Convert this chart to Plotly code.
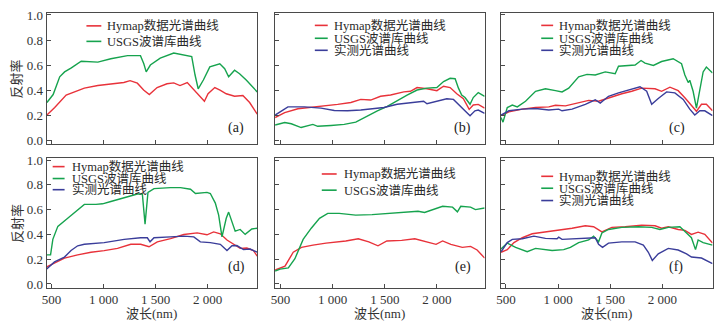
"""
Courbes spectrales : Hymap / USGS / mesures terrain (6 panneaux)
"""

import plotly.graph_objects as go
from plotly.subplots import make_subplots

W, H = 716, 326

FONT = "Times New Roman, Liberation Serif, Noto Sans CJK SC, serif"
RED = "#e8323a"
GREEN = "#16a34e"
BLUE = "#3a3d9a"
FRAME = "#4a4a4a"

NAME_HYMAP = "Hymap数据光谱曲线"
NAME_USGS = "USGS波谱库曲线"
NAME_MEAS = "实测光谱曲线"

# ---- (a)
a_hymap_wl = [455, 530, 640, 750, 815, 945, 1070, 1195, 1255, 1325, 1385, 1440, 1515, 1610,
              1675, 1735, 1805, 1850, 1910, 1970, 2005, 2070, 2120, 2180, 2260, 2340, 2405, 2478]
a_hymap = [0.20, 0.26, 0.36, 0.395, 0.415, 0.436, 0.45, 0.46, 0.475, 0.455, 0.40, 0.364, 0.42, 0.45,
           0.457, 0.436, 0.46, 0.42, 0.37, 0.31, 0.37, 0.42, 0.40, 0.37, 0.35, 0.356, 0.30, 0.208]
a_usgs_wl = [455, 515, 578, 625, 690, 785, 945, 1070, 1230, 1355, 1387, 1410, 1450, 1545,
             1675, 1770, 1848, 1880, 1910, 1960, 2022, 2118, 2165, 2203, 2260, 2308, 2372, 2478]
a_usgs = [0.30, 0.364, 0.506, 0.545, 0.577, 0.63, 0.623, 0.65, 0.675, 0.675, 0.61, 0.545, 0.60, 0.655,
          0.696, 0.68, 0.667, 0.52, 0.41, 0.48, 0.585, 0.61, 0.57, 0.506, 0.558, 0.53, 0.48, 0.385]

# ---- (b)
b_hymap_wl = [448, 540, 667, 794, 921, 1048, 1175, 1270, 1365, 1460, 1556, 1683, 1746, 1810,
              1905, 2000, 2064, 2127, 2191, 2254, 2310, 2349, 2397, 2458]
b_hymap = [0.18, 0.22, 0.25, 0.26, 0.27, 0.285, 0.30, 0.325, 0.32, 0.35, 0.36, 0.385, 0.39, 0.42,
           0.41, 0.395, 0.43, 0.42, 0.37, 0.33, 0.245, 0.28, 0.285, 0.255]
b_usgs_wl = [448, 540, 603, 698, 810, 857, 984, 1111, 1222, 1333, 1429, 1524, 1619, 1714,
             1810, 1905, 2000, 2064, 2127, 2175, 2207, 2238, 2270, 2318, 2349, 2397, 2458]
b_usgs = [0.12, 0.14, 0.13, 0.10, 0.125, 0.11, 0.117, 0.125, 0.143, 0.195, 0.234, 0.27, 0.317, 0.36,
          0.40, 0.415, 0.42, 0.468, 0.494, 0.49, 0.415, 0.36, 0.34, 0.286, 0.34, 0.38, 0.35]
b_meas_wl = [448, 571, 730, 889, 1016, 1143, 1270, 1365, 1492, 1619, 1746, 1873, 1905, 2000,
             2095, 2159, 2207, 2270, 2318, 2365, 2397, 2458]
b_meas = [0.20, 0.265, 0.265, 0.255, 0.236, 0.234, 0.24, 0.247, 0.26, 0.286, 0.30, 0.31, 0.29, 0.31,
          0.33, 0.325, 0.286, 0.234, 0.195, 0.234, 0.24, 0.213]

# ---- (c)
c_hymap_wl = [453, 529, 657, 784, 911, 975, 1070, 1197, 1293, 1388, 1483, 1611, 1706, 1801,
              1929, 1992, 2072, 2151, 2215, 2278, 2326, 2374, 2421, 2480]
c_hymap = [0.195, 0.226, 0.247, 0.26, 0.265, 0.278, 0.273, 0.30, 0.317, 0.31, 0.338, 0.37, 0.39, 0.415,
           0.41, 0.39, 0.423, 0.395, 0.338, 0.273, 0.23, 0.286, 0.286, 0.234]
c_usgs_wl = [453, 472, 513, 561, 609, 688, 784, 879, 975, 1038, 1102, 1197, 1277, 1356, 1452,
             1547, 1579, 1658, 1738, 1795, 1833, 1913, 1992, 2103, 2183, 2215, 2247, 2262,
             2294, 2326, 2358, 2390, 2421, 2480]
c_usgs = [0.18, 0.143, 0.26, 0.28, 0.265, 0.31, 0.39, 0.41, 0.395, 0.385, 0.415, 0.506, 0.525, 0.52, 0.545,
          0.53, 0.59, 0.597, 0.60, 0.636, 0.615, 0.597, 0.628, 0.65, 0.61, 0.52, 0.46, 0.478,
          0.39, 0.255, 0.39, 0.545, 0.584, 0.537]
c_meas_wl = [453, 529, 657, 784, 911, 1006, 1038, 1134, 1261, 1356, 1404, 1483, 1579, 1706,
             1785, 1849, 1897, 1960, 2040, 2119, 2199, 2262, 2310, 2358, 2406, 2480]
c_meas = [0.20, 0.234, 0.247, 0.252, 0.24, 0.247, 0.234, 0.247, 0.286, 0.322, 0.296, 0.35, 0.377, 0.41,
          0.426, 0.39, 0.286, 0.332, 0.385, 0.377, 0.325, 0.247, 0.20, 0.234, 0.234, 0.195]

# ---- (d)
d_hymap_wl = [453, 528, 624, 751, 879, 1006, 1134, 1262, 1357, 1437, 1517, 1644, 1772, 1900,
              1995, 2059, 2123, 2187, 2250, 2314, 2378, 2442, 2478]
d_hymap = [0.138, 0.17, 0.209, 0.235, 0.256, 0.269, 0.287, 0.32, 0.32, 0.30, 0.34, 0.366, 0.399, 0.412,
           0.397, 0.42, 0.405, 0.355, 0.32, 0.287, 0.29, 0.269, 0.225]
d_usgs_wl = [453, 490, 512, 560, 655, 751, 815, 927, 990, 1070, 1198, 1325, 1373, 1399, 1427,
             1485, 1644, 1740, 1836, 1884, 1995, 2027, 2075, 2107, 2139, 2180, 2203, 2235,
             2266, 2314, 2362, 2426, 2478]
d_usgs = [0.235, 0.235, 0.36, 0.465, 0.53, 0.595, 0.642, 0.642, 0.647, 0.666, 0.695, 0.726, 0.726, 0.483, 0.739,
          0.77, 0.778, 0.778, 0.765, 0.73, 0.739, 0.73, 0.653, 0.556, 0.38, 0.53, 0.58, 0.504,
          0.426, 0.44, 0.40, 0.444, 0.45]
d_meas_wl = [453, 528, 624, 687, 751, 815, 1006, 1198, 1357, 1421, 1447, 1485, 1644, 1772,
             1868, 1931, 2027, 2123, 2187, 2235, 2282, 2346, 2410, 2478]
d_meas = [0.12, 0.178, 0.217, 0.27, 0.308, 0.32, 0.334, 0.36, 0.373, 0.373, 0.34, 0.373, 0.38, 0.386,
          0.38, 0.34, 0.334, 0.32, 0.27, 0.308, 0.31, 0.277, 0.282, 0.256]

# ---- (e)
e_hymap_wl = [448, 543, 622, 701, 811, 937, 1126, 1246, 1347, 1435, 1520, 1662, 1788, 1882,
              1992, 2055, 2134, 2244, 2323, 2386, 2458]
e_hymap = [0.112, 0.144, 0.256, 0.295, 0.313, 0.33, 0.347, 0.365, 0.34, 0.308, 0.347, 0.352, 0.365, 0.347,
           0.32, 0.347, 0.32, 0.295, 0.303, 0.274, 0.209]
e_usgs_wl = [448, 496, 575, 638, 717, 795, 874, 953, 1063, 1221, 1378, 1536, 1693, 1819,
             1882, 1977, 2055, 2150, 2197, 2229, 2323, 2370, 2458]
e_usgs = [0.104, 0.12, 0.13, 0.204, 0.36, 0.45, 0.53, 0.57, 0.57, 0.556, 0.56, 0.57, 0.577, 0.587,
          0.577, 0.608, 0.627, 0.62, 0.582, 0.627, 0.62, 0.60, 0.613]

# ---- (f)
f_hymap_wl = [453, 513, 577, 657, 752, 879, 1006, 1134, 1261, 1340, 1420, 1515, 1642, 1801,
              1929, 1992, 2056, 2151, 2215, 2278, 2342, 2406, 2480]
f_hymap = [0.256, 0.277, 0.334, 0.373, 0.405, 0.42, 0.433, 0.45, 0.47, 0.462, 0.42, 0.457, 0.462, 0.475,
           0.47, 0.45, 0.462, 0.44, 0.433, 0.40, 0.418, 0.40, 0.33]
f_usgs_wl = [453, 513, 593, 704, 784, 847, 943, 1054, 1118, 1197, 1293, 1340, 1388, 1420,
             1483, 1611, 1770, 1897, 1976, 2056, 2167, 2231, 2278, 2317, 2342, 2390, 2480]
f_usgs = [0.282, 0.33, 0.295, 0.26, 0.287, 0.28, 0.27, 0.277, 0.295, 0.334, 0.355, 0.386, 0.34, 0.412,
          0.44, 0.457, 0.462, 0.457, 0.44, 0.457, 0.462, 0.412, 0.373, 0.277, 0.355, 0.334, 0.313]
f_meas_wl = [453, 513, 561, 657, 768, 879, 990, 1006, 1038, 1165, 1293, 1356, 1388, 1426,
             1483, 1611, 1738, 1817, 1865, 1903, 1960, 2056, 2151, 2231, 2278, 2374, 2480]
f_meas = [0.26, 0.334, 0.36, 0.365, 0.386, 0.368, 0.365, 0.378, 0.36, 0.365, 0.365, 0.373, 0.32, 0.295,
          0.33, 0.34, 0.34, 0.313, 0.256, 0.19, 0.243, 0.287, 0.274, 0.243, 0.217, 0.209, 0.165]

x_ticks = [500, 1000, 1500, 2000]
x_tick_text = ["500", "1 000", "1 500", "2 000"]
y_ticks = [0.0, 0.2, 0.4, 0.6, 0.8, 1.0]
y_tick_text = ["0.0", "0.2", "0.4", "0.6", "0.8", "1.0"]


def px(x):
    return x / W


def py(y):
    return 1 - y / H


# domaines des panneaux (pixels)
col_px = [(42, 254), (272, 483), (499.5, 712.5)]
row_px = [(7.6, 142.3), (157.3, 290.7)]
x_ranges = [[453, 2478], [448, 2458], [453, 2480]]

panels = [
    dict(row=1, col=1, tag="(a)", curves=[(a_hymap_wl, a_hymap, RED, NAME_HYMAP),
                                          (a_usgs_wl, a_usgs, GREEN, NAME_USGS)],
         leg=(82, 97, 101, [20.5, 36.5]), lab=(233, 126)),
    dict(row=1, col=2, tag="(b)", curves=[(b_hymap_wl, b_hymap, RED, NAME_HYMAP),
                                          (b_usgs_wl, b_usgs, GREEN, NAME_USGS),
                                          (b_meas_wl, b_meas, BLUE, NAME_MEAS)],
         leg=(312, 325, 329, [20, 33.3, 45.7]), lab=(461, 126)),
    dict(row=1, col=3, tag="(c)", curves=[(c_hymap_wl, c_hymap, RED, NAME_HYMAP),
                                          (c_usgs_wl, c_usgs, GREEN, NAME_USGS),
                                          (c_meas_wl, c_meas, BLUE, NAME_MEAS)],
         leg=(540, 552, 556, [20, 33.3, 45.7]), lab=(677, 126)),
    dict(row=2, col=1, tag="(d)", curves=[(d_hymap_wl, d_hymap, RED, NAME_HYMAP),
                                          (d_usgs_wl, d_usgs, GREEN, NAME_USGS),
                                          (d_meas_wl, d_meas, BLUE, NAME_MEAS)],
         leg=(48, 60, 65, [165.7, 178, 189.5]), lab=(233, 269)),
    dict(row=2, col=2, tag="(e)", curves=[(e_hymap_wl, e_hymap, RED, NAME_HYMAP),
                                          (e_usgs_wl, e_usgs, GREEN, NAME_USGS)],
         leg=(319, 334, 339, [173.3, 190]), lab=(461, 269)),
    dict(row=2, col=3, tag="(f)", curves=[(f_hymap_wl, f_hymap, RED, NAME_HYMAP),
                                          (f_usgs_wl, f_usgs, GREEN, NAME_USGS),
                                          (f_meas_wl, f_meas, BLUE, NAME_MEAS)],
         leg=(540, 552, 556, [175.7, 188, 200.7]), lab=(676, 269)),
]

fig = make_subplots(rows=2, cols=3)

for p in panels:
    r, c = p["row"], p["col"]
    for wl, refl, color, name in p["curves"]:
        fig.add_trace(go.Scatter(x=wl, y=refl, mode="lines", name=name,
                                 line=dict(color=color, width=1.4), showlegend=False),
                      row=r, col=c)

    x0, x1 = col_px[c - 1]
    y0, y1 = row_px[r - 1]
    fig.update_xaxes(domain=[px(x0), px(x1)], range=x_ranges[c - 1],
                     tickvals=x_ticks, ticktext=x_tick_text if r == 2 else None,
                     showticklabels=(r == 2), row=r, col=c)
    fig.update_yaxes(domain=[py(y1), py(y0)], range=[-0.031, 1.013],
                     tickvals=y_ticks, ticktext=y_tick_text,
                     showticklabels=(c == 1), row=r, col=c)

    # légende dessinée à la main
    lx0, lx1, tx, rows_y = p["leg"]
    for (wl, refl, color, name), yy in zip(p["curves"], rows_y):
        fig.add_shape(type="line", xref="paper", yref="paper",
                      x0=px(lx0), x1=px(lx1), y0=py(yy), y1=py(yy),
                      line=dict(color=color, width=1.6))
        fig.add_annotation(x=px(tx), y=py(yy), xref="paper", yref="paper",
                           text=name, showarrow=False, xanchor="left", yanchor="middle",
                           font=dict(size=12.5, color="#2a2a2a", family=FONT))

    fig.add_annotation(x=px(p["lab"][0]), y=py(p["lab"][1]), xref="paper", yref="paper",
                       text=p["tag"], showarrow=False, xanchor="center", yanchor="middle",
                       font=dict(size=14, color="#222222", family=FONT))

fig.update_xaxes(showgrid=False, zeroline=False, showline=True, mirror=True,
                 linecolor=FRAME, linewidth=1, ticks="inside", ticklen=4,
                 tickcolor=FRAME, tickfont=dict(size=13, color="#333333", family=FONT))
fig.update_yaxes(showgrid=False, zeroline=False, showline=True, mirror=True,
                 linecolor=FRAME, linewidth=1, ticks="inside", ticklen=4,
                 tickcolor=FRAME, tickfont=dict(size=13, color="#333333", family=FONT))

# titres des axes
for yy in [75, 224]:
    fig.add_annotation(x=px(12), y=py(yy), xref="paper", yref="paper", text="反射率",
                       textangle=-90, showarrow=False, xanchor="center", yanchor="middle",
                       font=dict(size=13, color="#333333", family=FONT))
for x0, x1 in col_px:
    fig.add_annotation(x=px((x0 + x1) / 2), y=py(317), xref="paper", yref="paper",
                       text="波长(nm)", showarrow=False, xanchor="center", yanchor="middle",
                       font=dict(size=13, color="#333333", family=FONT))

fig.update_layout(
    width=W, height=H,
    margin=dict(l=0, r=0, t=0, b=0),
    paper_bgcolor="white", plot_bgcolor="white",
    showlegend=False,
)

# la page a une marge par défaut de 8 px sur le body
fig.write_html("out.html", config={"displayModeBar": False},
               post_script="document.body.style.margin = '0';")
